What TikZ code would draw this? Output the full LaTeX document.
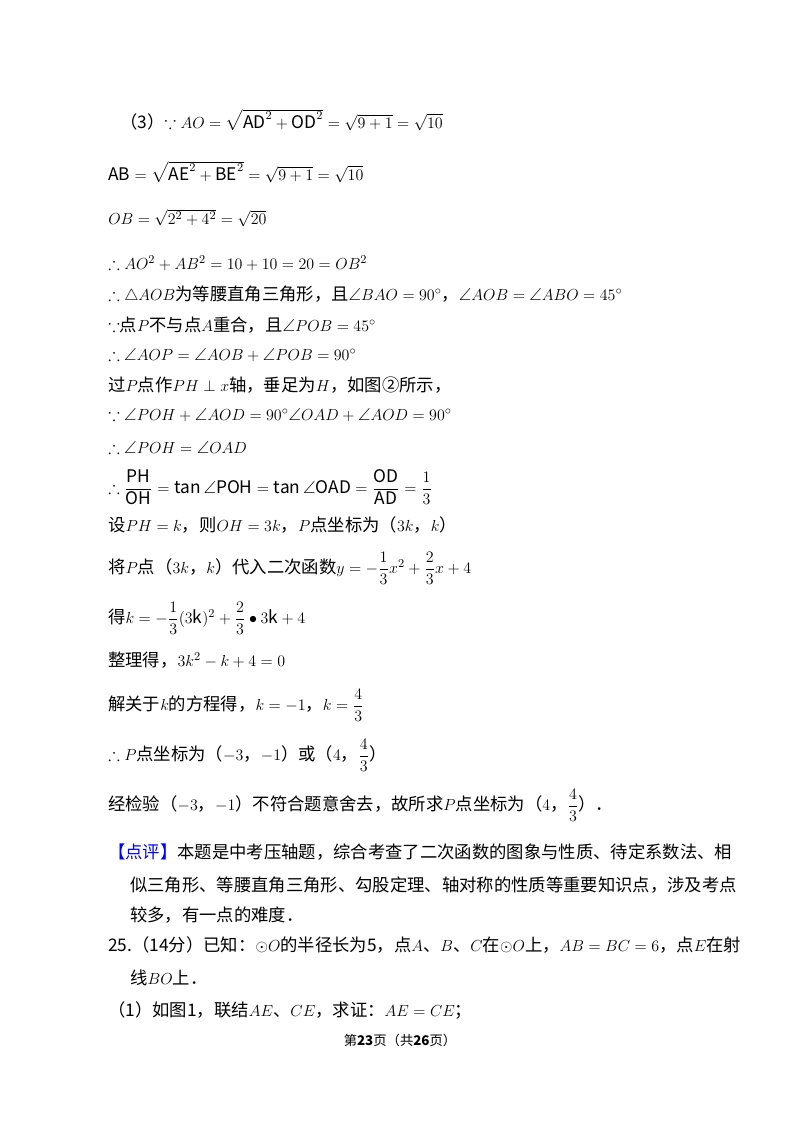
\documentclass[tikz,border=0pt]{standalone}
\usepackage{amsmath}
\usepackage{amssymb}
\usepackage{fontspec}
\setmainfont{Noto Sans CJK SC}
\usepackage{tikz}

\tikzset{
  ln/.style={anchor=west, inner sep=0pt, font=\fontsize{13}{15}\selectfont},
  ft/.style={anchor=center, inner sep=0pt, font=\fontsize{10}{12}\selectfont}
}
\newcommand{\ra}[1]{\mathrm{#1}}

\begin{document}
\begin{tikzpicture}[x=0.75pt, y=-0.75pt]
	\useasboundingbox[fill=white] (0,0) rectangle (800,1132);
	\node[ln] (l1) at (120,120) {（3）$\because AO=\sqrt{\ra{AD}^2+\ra{OD}^2}=\sqrt{9+1}=\sqrt{10}$};
	\node[ln] (l2) at (108,172) {$\ra{AB}=\sqrt{\ra{AE}^2+\ra{BE}^2}=\sqrt{9+1}=\sqrt{10}$};
	\node[ln] (l3) at (108,218) {$OB=\sqrt{2^2+4^2}=\sqrt{20}$};
	\node[ln] (l4) at (108,263) {$\therefore AO^2+AB^2=10+10=20=OB^2$};
	\node[ln] (l5) at (108,295) {$\therefore\triangle AOB$为等腰直角三角形，且$\angle BAO=90^\circ$，$\angle AOB=\angle ABO=45^\circ$};
	\node[ln] (l6) at (108,325) {$\because$点$P$不与点$A$重合，且$\angle POB=45^\circ$};
	\node[ln] (l7) at (108,355) {$\therefore\angle AOP=\angle AOB+\angle POB=90^\circ$};
	\node[ln] (l8) at (108,385) {过$P$点作$PH\perp x$轴，垂足为$H$，如图②所示，};
	\node[ln] (l9) at (108,415) {$\because\angle POH+\angle AOD=90^\circ\angle OAD+\angle AOD=90^\circ$};
	\node[ln] (l10) at (108,447) {$\therefore\angle POH=\angle OAD$};
	\node[ln] (l11) at (108,487) {$\therefore\dfrac{\ra{PH}}{\ra{OH}}=\tan\angle\ra{POH}=\tan\angle\ra{OAD}=\dfrac{\ra{OD}}{\ra{AD}}=\dfrac{1}{3}$};
	\node[ln] (l12) at (108,525) {设$PH=k$，则$OH=3k$，$P$点坐标为（$3k$，$k$）};
	\node[ln] (l13) at (108,568) {将$P$点（$3k$，$k$）代入二次函数$y=-\dfrac{1}{3}x^2+\dfrac{2}{3}x+4$};
	\node[ln] (l14) at (108,618) {得$k=-\dfrac{1}{3}(3\ra{k})^2+\dfrac{2}{3}\bullet3\ra{k}+4$};
	\node[ln] (l15) at (108,660) {整理得，$3k^2-k+4=0$};
	\node[ln] (l16) at (108,705) {解关于$k$的方程得，$k=-1$，$k=\dfrac{4}{3}$};
	\node[ln] (l17) at (108,755) {$\therefore P$点坐标为（$-3$，$-1$）或（$4$，$\dfrac{4}{3}$）};
	\node[ln] (l18) at (108,805) {经检验（$-3$，$-1$）不符合题意舍去，故所求$P$点坐标为（$4$，$\dfrac{4}{3}$）．};
	\node[ln] (l19) at (108,852) {\textcolor{blue}{【点评】}本题是中考压轴题，综合考查了二次函数的图象与性质、待定系数法、相};
	\node[ln] (l20) at (130,885) {似三角形、等腰直角三角形、勾股定理、轴对称的性质等重要知识点，涉及考点};
	\node[ln] (l21) at (130,915) {较多，有一点的难度．};
	\node[ln] (l22) at (108,945) {25.（14分）已知：$\odot O$的半径长为5，点$A$、$B$、$C$在$\odot O$上，$AB=BC=6$，点$E$在射};
	\node[ln] (l23) at (130,978) {线$BO$上．};
	\node[ln] (l24) at (108,1010) {（1）如图1，联结$AE$、$CE$，求证：$AE=CE$；};
	\node[ft] (pg) at (400,1040) {第\textbf{23}页（共\textbf{26}页）};
\end{tikzpicture}
\end{document}
